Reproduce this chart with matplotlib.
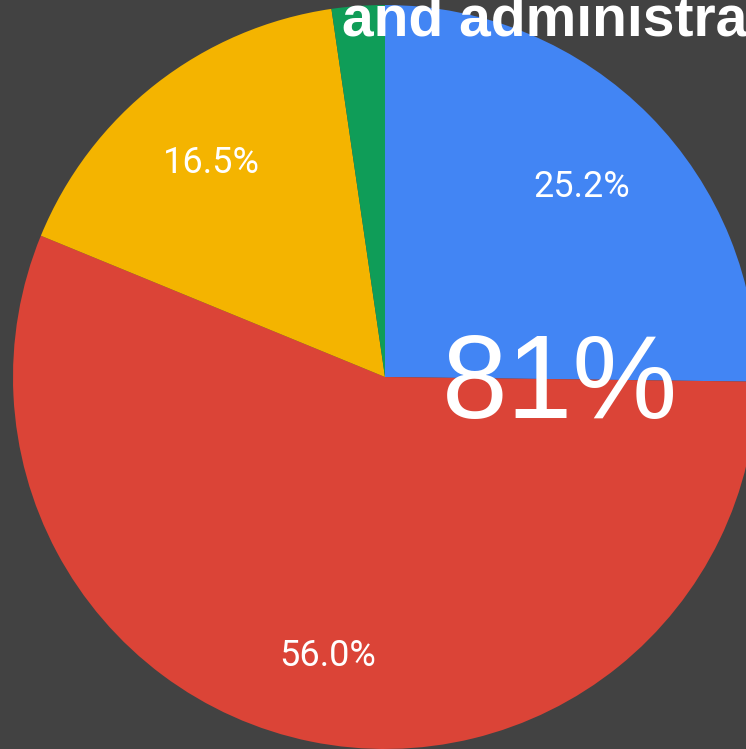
import matplotlib
matplotlib.use("Agg")
import matplotlib.pyplot as plt

categories = ["Blue", "Red", "Yellow", "Green"]
values = [25.2, 56.0, 16.5, 2.3]
colors = ["#4285F4", "#DB4437", "#F4B400", "#0F9D58"]
title_text = "and administra"
center_text = "81%"

W, H = 746, 749
bg = "#424242"
fig = plt.figure(figsize=(W / 100, H / 100), dpi=100, facecolor=bg)
ax = fig.add_axes([0, 0, 1, 1])
ax.set_facecolor(bg)

cx, cy, R = 385, 377, 372

def fmt(p):
    return f"{p:.1f}%" if p >= 5 else ""

wedges, texts, autotexts = ax.pie(
    values, colors=colors, startangle=90, counterclock=False,
    autopct=fmt, pctdistance=0.75, radius=1.0,
    wedgeprops=dict(linewidth=0),
    textprops=dict(color="white", fontsize=26, family="Roboto"),
)
# nudge labels slightly downward (pixel offset) like the reference renderer
for t in autotexts:
    x, y = t.get_position()
    t.set_position((x - 2 / R, y - 6 / R))

ax.set_aspect("auto")
ax.set_xlim(-cx / R, (W - cx) / R)
ax.set_ylim(-(H - cy) / R, cy / R)
ax.axis("off")

fig.text(342 / W, 1 - 35 / H, title_text, color="white", fontsize=41,
         fontweight="bold", family="Liberation Sans", ha="left", va="baseline")
fig.text(442 / W, 1 - 418 / H, center_text, color="white", fontsize=85,
         family="Liberation Sans", ha="left", va="baseline")

fig.savefig("out.png", dpi=100, facecolor=bg)
